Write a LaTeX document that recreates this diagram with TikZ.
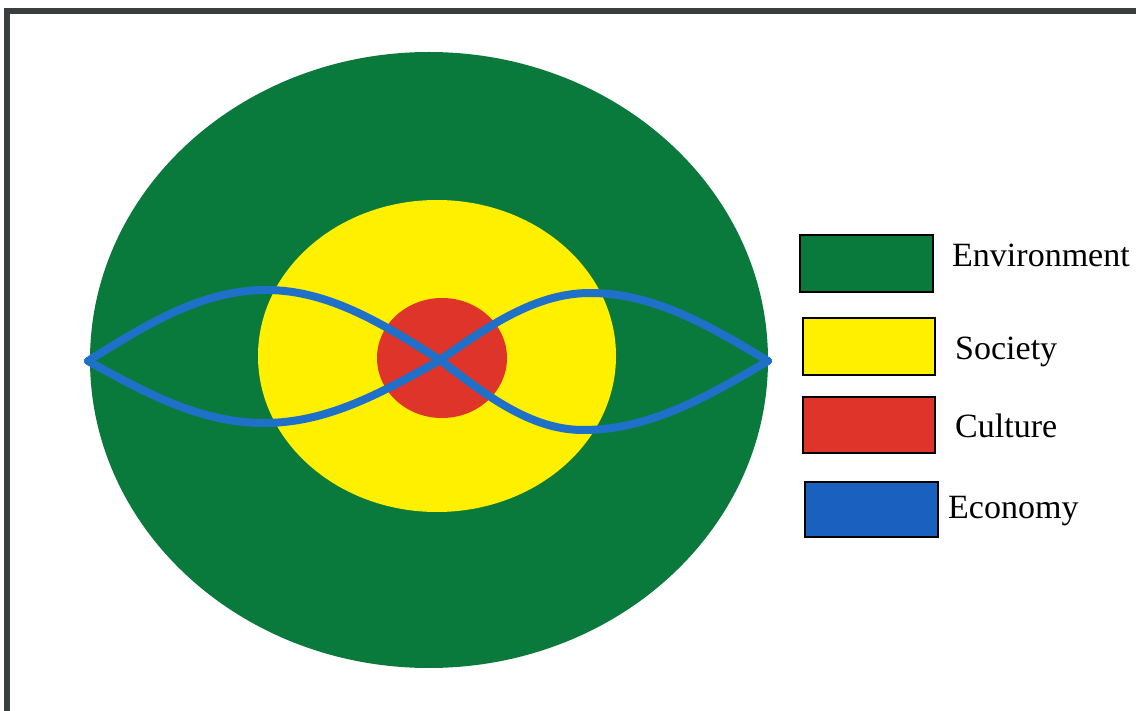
\documentclass[tikz,border=0pt]{standalone}
\usepackage{fontspec}
\setmainfont{Liberation Serif}
\definecolor{envgreen}{RGB}{10,122,60}
\definecolor{socyellow}{RGB}{255,240,0}
\definecolor{culred}{RGB}{222,52,42}
\definecolor{ecoblue}{RGB}{30,112,200}
\definecolor{ecoleg}{RGB}{26,96,190}
\definecolor{frame}{RGB}{58,62,62}
\tikzset{
  legbox/.style={draw=black, line width=1.6pt},
  leglabel/.style={anchor=base west, inner sep=0pt, font=\fontsize{34}{39}\selectfont},
  econ/.style={draw=ecoblue, line width=8pt, line join=round, line cap=round}
}
\begin{document}
\begin{tikzpicture}[x=1pt,y=-1pt]
\useasboundingbox (0,0) rectangle (1136,711);
\fill[white] (0,0) rectangle (1136,711);
% frame
\draw[frame, line width=6pt] (7,711) -- (7,11) -- (1136,11);
% circles
\fill[envgreen] (429,360) ellipse [x radius=339, y radius=308];
\fill[socyellow] (437,356) ellipse [x radius=179, y radius=156];
\fill[culred] (442,358) ellipse [x radius=65, y radius=60];
% economy curves (piecewise quarter sines)
\coordinate (L) at (88,361);
\coordinate (R) at (768,361);
\draw[econ] (L)
  -- plot[domain=88:266, samples=40, smooth] (\x, {361-71*sin((\x-88)/178*90)})
  -- plot[domain=266:440, samples=40, smooth] (\x, {360-70*cos((\x-266)/174*90)})
  -- plot[domain=440:583, samples=40, smooth] (\x, {360+70*sin((\x-440)/143*90)})
  -- plot[domain=583:768, samples=40, smooth] (\x, {361+69*cos((\x-583)/185*90)});
\draw[econ] (L)
  -- plot[domain=88:264, samples=40, smooth] (\x, {361+62*sin((\x-88)/176*90)})
  -- plot[domain=264:440, samples=40, smooth] (\x, {360+63*cos((\x-264)/176*90)})
  -- plot[domain=440:590, samples=40, smooth] (\x, {360-67*sin((\x-440)/150*90)})
  -- plot[domain=590:768, samples=40, smooth] (\x, {361-68*cos((\x-590)/178*90)});
% legend
\path[legbox, fill=envgreen] (800,235) rectangle (933,292) node (bEnv) {};
\path[legbox, fill=socyellow] (803,318) rectangle (935,375) node (bSoc) {};
\path[legbox, fill=culred] (803,397) rectangle (935,453) node (bCul) {};
\path[legbox, fill=ecoleg] (805,482) rectangle (938,537) node (bEco) {};
\node[leglabel] (tEnv) at (952,267) {Environment};
\node[leglabel] (tSoc) at (955,360) {Society};
\node[leglabel] (tCul) at (955,437) {Culture};
\node[leglabel] (tEco) at (948,518) {Economy};
\end{tikzpicture}
\end{document}
